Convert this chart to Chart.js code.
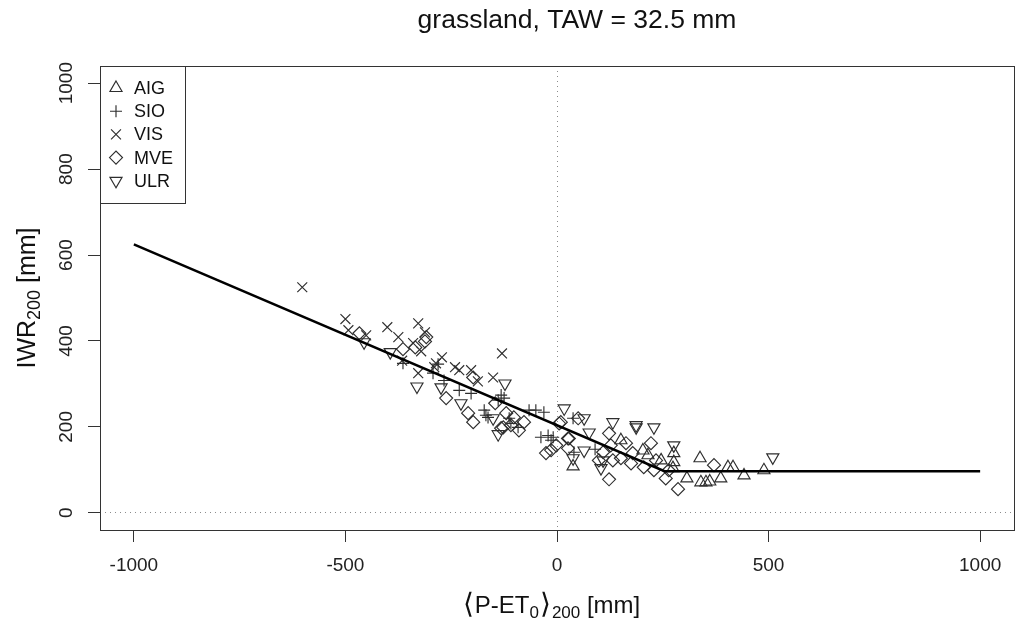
<!DOCTYPE html>
<html>
<head>
<meta charset="utf-8">
<title>grassland, TAW = 32.5 mm</title>
<script src="https://cdn.jsdelivr.net/npm/chart.js@4.4.1/dist/chart.umd.min.js"></script>
<style>
  html, body { margin: 0; padding: 0; background: #fff; }
  #wrap { width: 1024px; height: 631px; }
</style>
</head>
<body>
<div id="wrap"><canvas id="myChart"></canvas></div>
<script>
const FONT = '"Liberation Sans", Arial, sans-serif';

// series (stations)
const seriesNames = ['AIG', 'SIO', 'VIS', 'MVE', 'ULR'];

const aigX = [38, 151, 203, 215, 246, 276, 276, 274, 307, 338, 404, 416, 340, 352, 361, 387, 442, 489];
const aigY = [108, 169, 145, 134, 122, 139, 118, 104, 80, 127, 106, 106, 71, 71, 73, 80, 87, 99];

const sioX = [-364, -293, -281, -267, -231, -203, -132, -139, -125, -172, -168, -163, -113, -92, -109, -66, -50, -31, -38, -14, -21, -9, 38, 40, 90];
const sioY = [348, 325, 346, 308, 285, 278, 274, 262, 267, 239, 227, 222, 220, 199, 208, 239, 239, 234, 176, 169, 180, 176, 220, 141, 148];

const visX = [-602, -500, -493, -451, -401, -375, -328, -312, -340, -321, -328, -272, -290, -241, -231, -203, -187, -130, -151, -286, -366];
const visY = [525, 451, 425, 413, 432, 409, 441, 420, 395, 376, 325, 362, 339, 339, 332, 332, 306, 371, 315, 348, 354];

const mveX = [-467, -312, -364, -335, -309, -198, -262, -210, -198, -146, -127, -102, -90, -78, -120, -109, -132, -26, -14, -2, 9, 26, 26, 5, 50, 28, 123, 127, 109, 99, 132, 123, 151, 175, 179, 222, 205, 234, 229, 257, 286, 371, 163, 264];
const mveY = [418, 399, 381, 385, 409, 315, 267, 232, 211, 255, 199, 222, 192, 211, 232, 204, 197, 139, 146, 157, 211, 173, 150, 208, 220, 173, 185, 157, 141, 122, 122, 78, 127, 115, 139, 162, 106, 122, 99, 80, 55, 111, 162, 99];

const ulrX = [-456, -394, -331, -274, -227, -123, -151, -139, 17, 64, 76, 38, 64, 132, 187, 187, 229, 109, 104, 276, 510];
const ulrY = [397, 374, 294, 292, 255, 301, 220, 183, 243, 220, 187, 127, 145, 211, 199, 204, 199, 122, 104, 157, 129];

// fitted piecewise line
const lineX = [-1000, 254, 1000];
const lineY = [625, 97, 97];

// axis ticks
const xTicks = [-1000, -500, 0, 500, 1000];
const yTicks = [0, 200, 400, 600, 800, 1000];

const seriesX = [aigX, sioX, visX, mveX, ulrX];
const seriesY = [aigY, sioY, visY, mveY, ulrY];

// R pch 2, 3, 4, 5, 6
const markers = [
  { style: 'triangle', rot: 0, r: 7 },
  { style: 'cross', rot: 0, r: 6 },
  { style: 'crossRot', rot: 0, r: 7 },
  { style: 'rectRot', rot: 0, r: 6.5 },
  { style: 'triangle', rot: 180, r: 7 }
];
const markColor = '#2e2e2e';
const markWidth = 1.15;

function pts(xs, ys) {
  return xs.map((x, i) => ({ x: x, y: ys[i] }));
}

function richText(ctx, parts, cx, base) {
  let w = 0;
  parts.forEach(p => {
    ctx.font = p.size + 'px ' + FONT;
    p.w = ctx.measureText(p.t).width + (p.gap || 0);
    w += p.w;
  });
  let x = cx - w / 2;
  ctx.textAlign = 'left';
  ctx.textBaseline = 'alphabetic';
  parts.forEach(p => {
    ctx.font = p.size + 'px ' + FONT;
    ctx.fillText(p.t, x + (p.gap || 0) / 2, base + (p.dy || 0));
    x += p.w;
  });
}

function marker(ctx, m, x, y) {
  ctx.strokeStyle = markColor;
  ctx.fillStyle = 'rgba(0,0,0,0)';
  ctx.lineWidth = markWidth;
  Chart.helpers.drawPoint(ctx, { pointStyle: m.style, rotation: m.rot, radius: m.r, borderWidth: markWidth }, x, y);
}

// box, rotated y labels, axis titles, title, legend  (R look)
const rStyle = {
  id: 'rStyle',
  afterDraw(chart) {
    const { ctx, chartArea: a, scales } = chart;
    ctx.save();

    ctx.strokeStyle = '#333';
    ctx.lineWidth = 1;
    ctx.strokeRect(Math.round(a.left) + 0.5, Math.round(a.top) + 0.5,
      Math.round(a.right - a.left), Math.round(a.bottom - a.top));

    ctx.fillStyle = '#222';
    ctx.font = '19px ' + FONT;
    ctx.textAlign = 'center';
    ctx.textBaseline = 'alphabetic';
    yTicks.forEach(v => {
      ctx.save();
      ctx.translate(72, scales.y.getPixelForValue(v));
      ctx.rotate(-Math.PI / 2);
      ctx.fillText(String(v), 0, 0);
      ctx.restore();
    });

    // main title
    ctx.fillStyle = '#111';
    ctx.font = '26.5px ' + FONT;
    ctx.textAlign = 'center';
    ctx.fillText('grassland, TAW = 32.5 mm', 577, 28);

    // x axis title
    richText(ctx, [
      { t: '\u27E8', size: 28, gap: 2 },
      { t: 'P-ET', size: 24 },
      { t: '0', size: 17, dy: 5 },
      { t: '\u27E9', size: 28, gap: 2 },
      { t: '200', size: 17, dy: 5 },
      { t: ' [mm]', size: 24 }
    ], (a.left + a.right) / 2 - 6, 613);

    // y axis title
    ctx.save();
    ctx.translate(35, (a.top + a.bottom) / 2);
    ctx.rotate(-Math.PI / 2);
    richText(ctx, [
      { t: 'IWR', size: 25 },
      { t: '200', size: 18, dy: 5 },
      { t: ' [mm]', size: 25 }
    ], 0, 0);
    ctx.restore();

    // legend
    const lx = Math.round(a.left) + 0.5, ly = Math.round(a.top) + 0.5;
    ctx.fillStyle = '#fff';
    ctx.fillRect(lx, ly, 85, 137);
    ctx.strokeStyle = '#333';
    ctx.lineWidth = 1;
    ctx.strokeRect(lx, ly, 85, 137);
    seriesNames.forEach((name, i) => {
      const yy = a.top + 22 + i * 23.2;
      marker(ctx, markers[i], a.left + 16, yy);
      ctx.fillStyle = '#111';
      ctx.font = '18px ' + FONT;
      ctx.textAlign = 'left';
      ctx.textBaseline = 'middle';
      ctx.fillText(name, a.left + 34, yy + 1);
    });

    ctx.restore();
  }
};

const datasets = seriesNames.map((name, i) => ({
  label: name,
  data: pts(seriesX[i], seriesY[i]),
  pointStyle: markers[i].style,
  pointRotation: markers[i].rot,
  pointRadius: markers[i].r,
  pointHoverRadius: markers[i].r,
  pointBorderColor: markColor,
  pointBackgroundColor: 'rgba(0,0,0,0)',
  pointBorderWidth: markWidth,
  pointHoverBorderWidth: markWidth,
  order: 1
}));

datasets.push({
  label: 'fit',
  data: pts(lineX, lineY),
  showLine: true,
  fill: false,
  borderColor: '#000',
  borderWidth: 2.5,
  pointRadius: 0,
  pointHoverRadius: 0,
  order: 0
});

function zeroLine(c) {
  return c.tick && c.tick.value === 0 ? '#8c8c8c' : 'rgba(0,0,0,0)';
}

let ctx = document.getElementById('myChart').getContext('2d');
let chart = new Chart(ctx, {
  type: 'scatter',
  data: { datasets: datasets },
  plugins: [rStyle],
  options: {
    responsive: true,
    maintainAspectRatio: false,
    animation: false,
    events: [],
    layout: { padding: { top: 66, right: 10, left: 0, bottom: 0 } },
    plugins: {
      legend: { display: false },
      title: { display: false },
      tooltip: { enabled: false }
    },
    scales: {
      x: {
        type: 'linear',
        min: -1080,
        max: 1080,
        afterBuildTicks: s => { s.ticks = xTicks.map(v => ({ value: v })); },
        afterFit: s => { s.height = 101; },
        grid: {
          color: zeroLine,
          lineWidth: 1,
          drawTicks: true,
          tickLength: 12,
          tickColor: '#333',
          tickWidth: 1
        },
        border: { display: false, dash: [1, 4] },
        ticks: {
          autoSkip: false,
          maxRotation: 0,
          padding: 12,
          color: '#222',
          font: { family: FONT, size: 19 },
          callback: v => String(v)
        }
      },
      y: {
        type: 'linear',
        min: -40,
        max: 1040,
        afterBuildTicks: s => { s.ticks = yTicks.map(v => ({ value: v })); },
        afterFit: s => { s.width = 100; },
        grid: {
          color: zeroLine,
          lineWidth: 1,
          drawTicks: true,
          tickLength: 12,
          tickColor: '#333',
          tickWidth: 1
        },
        border: { display: false, dash: [1, 4] },
        ticks: { display: false }
      }
    }
  }
});
</script>
</body>
</html>
